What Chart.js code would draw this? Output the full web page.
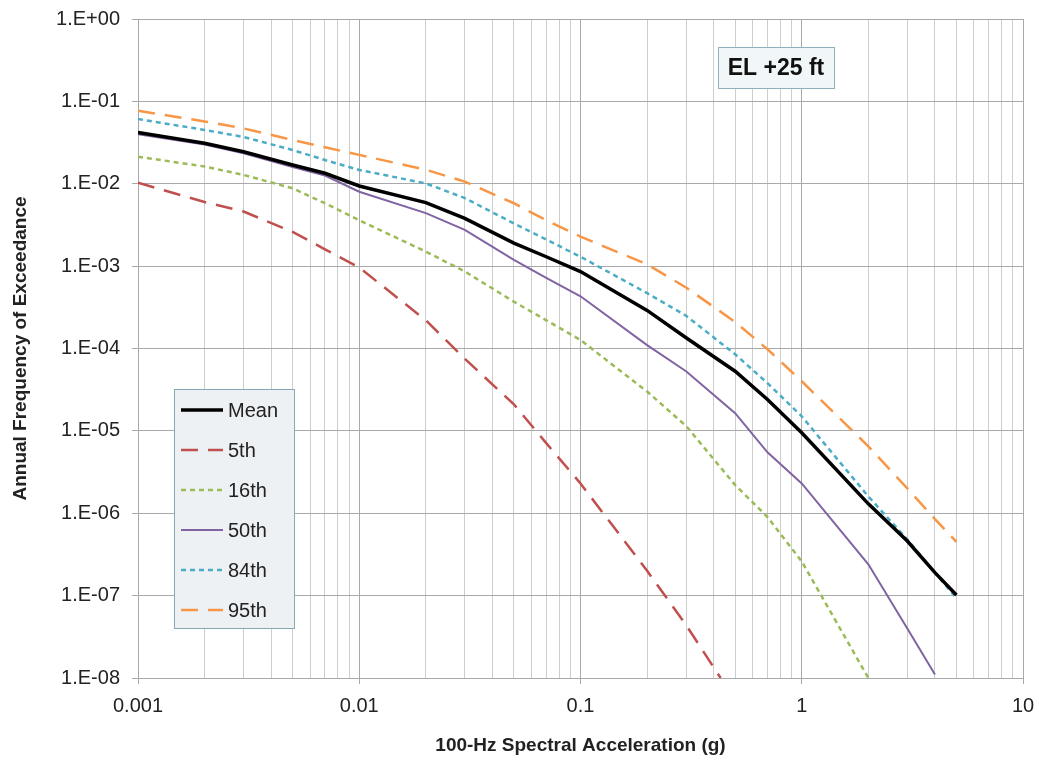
<!DOCTYPE html>
<html>
<head>
<meta charset="utf-8">
<script src="https://cdn.jsdelivr.net/npm/chart.js@4.4.1/dist/chart.umd.min.js"></script>
<style>
  html, body { margin: 0; padding: 0; background: #fff; }
  #wrap { width: 1039px; height: 761px; }
</style>
</head>
<body>
<div id="wrap"><canvas id="hazard" width="1039" height="761"></canvas></div>
<script>
// 100-Hz spectral acceleration (g)
const accel = [0.001, 0.002, 0.003, 0.005, 0.007, 0.01, 0.02, 0.03, 0.05, 0.07, 0.1, 0.2, 0.3, 0.5, 0.7, 1, 2, 3, 4, 5];
const accel5 = [0.001, 0.002, 0.003, 0.005, 0.007, 0.01, 0.02, 0.03, 0.05, 0.07, 0.1, 0.2, 0.3, 0.43];

// annual frequency of exceedance
const afeMean = [0.042, 0.031, 0.0245, 0.0169, 0.0134, 0.0094, 0.0059, 0.0038, 0.0019, 0.0013, 0.00086, 0.00029, 0.000135, 5.3e-5, 2.4e-5, 9.5e-6, 1.3e-6, 4.6e-7, 1.9e-7, 1.02e-7];
const afe5 = [0.0103, 0.0060, 0.0046, 0.0026, 0.0016, 0.00096, 0.00022, 7.5e-5, 2.1e-5, 7.1e-6, 2.3e-6, 2.0e-7, 4.4e-8, 1.0e-8];
const afe16 = [0.0213, 0.0162, 0.0128, 0.0088, 0.0058, 0.0036, 0.0015, 0.00086, 0.00037, 0.00022, 0.000127, 3.0e-5, 1.15e-5, 2.2e-6, 9.0e-7, 2.6e-7, 1.0e-8, null, null, null];
const afe50 = [0.040, 0.030, 0.0235, 0.016, 0.0126, 0.0080, 0.0044, 0.00275, 0.00119, 0.00072, 0.00043, 0.00011, 5.3e-5, 1.64e-5, 5.5e-6, 2.3e-6, 2.4e-7, 4.0e-8, 1.1e-8, null];
const afe84 = [0.061, 0.045, 0.037, 0.0257, 0.0194, 0.0147, 0.0101, 0.0067, 0.0033, 0.0021, 0.0013, 0.00047, 0.00025, 8.5e-5, 3.8e-5, 1.5e-5, 1.6e-6, 4.8e-7, 1.9e-7, 9.3e-8];
const afe95 = [0.077, 0.057, 0.047, 0.034, 0.0277, 0.0224, 0.0148, 0.0106, 0.0058, 0.0036, 0.00228, 0.00105, 0.00055, 0.00021, 9.8e-5, 4.0e-5, 6.5e-6, 2.0e-6, 8.5e-7, 4.5e-7];

const seriesNames = ['Mean', '5th', '16th', '50th', '84th', '95th'];
const yDecades = [1, 1e-1, 1e-2, 1e-3, 1e-4, 1e-5, 1e-6, 1e-7, 1e-8];
const boxLabel = 'EL +25 ft';

const FONT = "'Liberation Sans', Arial, sans-serif";

function pts(xs, ys) {
  return xs.map((x, i) => ({ x: x, y: ys[i] }));
}

function isDecade(v) {
  const l = Math.log10(v);
  return Math.abs(l - Math.round(l)) < 1e-6;
}

function sciLabel(v) {
  const e = Math.round(Math.log10(v));
  return '1.E' + (e < 0 ? '-' : '+') + String(Math.abs(e)).padStart(2, '0');
}

// legend box + "EL +25 ft" label drawn on top of the plot
const overlayPlugin = {
  id: 'overlay',
  afterDraw(chart) {
    const ctx = chart.ctx;
    const area = chart.chartArea;
    ctx.save();

    // annotation box
    const bx = area.left + 580, by = area.top + 28, bw = 116, bh = 41;
    ctx.fillStyle = '#f1f6f8';
    ctx.strokeStyle = '#8fb1bb';
    ctx.lineWidth = 1;
    ctx.setLineDash([]);
    ctx.fillRect(bx, by, bw, bh);
    ctx.strokeRect(bx + 0.5, by + 0.5, bw, bh);
    ctx.fillStyle = '#111';
    ctx.font = 'bold 23px ' + FONT;
    ctx.textAlign = 'center';
    ctx.textBaseline = 'middle';
    ctx.fillText(boxLabel, bx + bw / 2, by + bh / 2 + 1);

    // legend
    const lx = area.left + 36, ly = area.top + 370, lw = 120, lh = 239;
    ctx.fillStyle = '#eef1f4';
    ctx.strokeStyle = '#86aab3';
    ctx.fillRect(lx, ly, lw, lh);
    ctx.strokeRect(lx + 0.5, ly + 0.5, lw, lh);
    ctx.font = '20px ' + FONT;
    ctx.textAlign = 'left';
    chart.data.datasets.forEach((ds, i) => {
      const cy = ly + 21 + i * 40;
      ctx.strokeStyle = ds.borderColor;
      ctx.lineWidth = ds.borderWidth;
      ctx.setLineDash(ds.borderDash || []);
      ctx.beginPath();
      ctx.moveTo(lx + 7, cy);
      ctx.lineTo(lx + 49, cy);
      ctx.stroke();
      ctx.setLineDash([]);
      ctx.fillStyle = '#222';
      ctx.fillText(ds.label, lx + 54, cy + 1);
    });
    ctx.restore();
  }
};

const ctx = document.getElementById('hazard').getContext('2d');

new Chart(ctx, {
  type: 'line',
  data: {
    datasets: [
      { label: seriesNames[0], data: pts(accel, afeMean), borderColor: '#000000', borderWidth: 3.5 },
      { label: seriesNames[1], data: pts(accel5, afe5), borderColor: '#c0504d', borderWidth: 2.5, borderDash: [17, 10] },
      { label: seriesNames[2], data: pts(accel, afe16), borderColor: '#9bbb59', borderWidth: 2.5, borderDash: [5, 4] },
      { label: seriesNames[3], data: pts(accel, afe50), borderColor: '#8064a2', borderWidth: 2 },
      { label: seriesNames[4], data: pts(accel, afe84), borderColor: '#4bacc6', borderWidth: 2.5, borderDash: [5, 4] },
      { label: seriesNames[5], data: pts(accel, afe95), borderColor: '#f79646', borderWidth: 2.5, borderDash: [17, 10] }
    ]
  },
  options: {
    responsive: false,
    animation: false,
    devicePixelRatio: 1,
    layout: { padding: { left: 0, right: 16, top: 19, bottom: 0 } },
    elements: {
      point: { radius: 0 },
      line: { tension: 0, fill: false }
    },
    plugins: {
      legend: { display: false },
      tooltip: { enabled: false }
    },
    scales: {
      x: {
        type: 'logarithmic',
        min: 0.001,
        max: 10,
        afterBuildTicks(scale) {
          const t = [];
          for (let e = -3; e <= 0; e++) {
            for (let m = 1; m <= 9; m++) {
              t.push({ value: Number((m * Math.pow(10, e)).toPrecision(1)) });
            }
          }
          t.push({ value: 10 });
          scale.ticks = t;
        },
        afterFit(scale) {
          scale.height = 83;
          scale.paddingLeft = 0;
          scale.paddingRight = 0;
        },
        ticks: {
          autoSkip: false,
          maxRotation: 0,
          padding: 10,
          color: '#222',
          font: { family: FONT, size: 20 },
          callback: (v) => (isDecade(v) ? String(Number(v.toPrecision(1))) : '')
        },
        grid: {
          color: (c) => (c.tick && isDecade(c.tick.value) ? '#a9a9a9' : '#cdcdcd'),
          tickColor: (c) => (c.tick && isDecade(c.tick.value) ? '#a9a9a9' : 'rgba(0,0,0,0)'),
          tickLength: 6,
          lineWidth: 1
        },
        border: { color: '#a9a9a9' },
        title: {
          display: true,
          text: '100-Hz Spectral Acceleration (g)',
          color: '#222',
          font: { family: FONT, size: 19, weight: 'bold' },
          padding: { top: 0, bottom: 4 }
        }
      },
      y: {
        type: 'logarithmic',
        min: 1e-8,
        max: 1,
        afterBuildTicks(scale) {
          scale.ticks = yDecades.slice().reverse().map((v) => ({ value: v }));
        },
        afterFit(scale) {
          scale.width = 138;
          scale.paddingTop = 0;
          scale.paddingBottom = 0;
        },
        ticks: {
          autoSkip: false,
          padding: 12,
          color: '#222',
          font: { family: FONT, size: 20 },
          callback: (v) => sciLabel(v)
        },
        grid: {
          color: '#a9a9a9',
          tickLength: 6,
          lineWidth: 1
        },
        border: { color: '#a9a9a9' },
        title: {
          display: true,
          text: 'Annual Frequency of Exceedance',
          color: '#222',
          font: { family: FONT, size: 19, weight: 'bold' },
          padding: { top: 9, bottom: 0 }
        }
      }
    }
  },
  plugins: [overlayPlugin]
});
</script>
</body>
</html>
